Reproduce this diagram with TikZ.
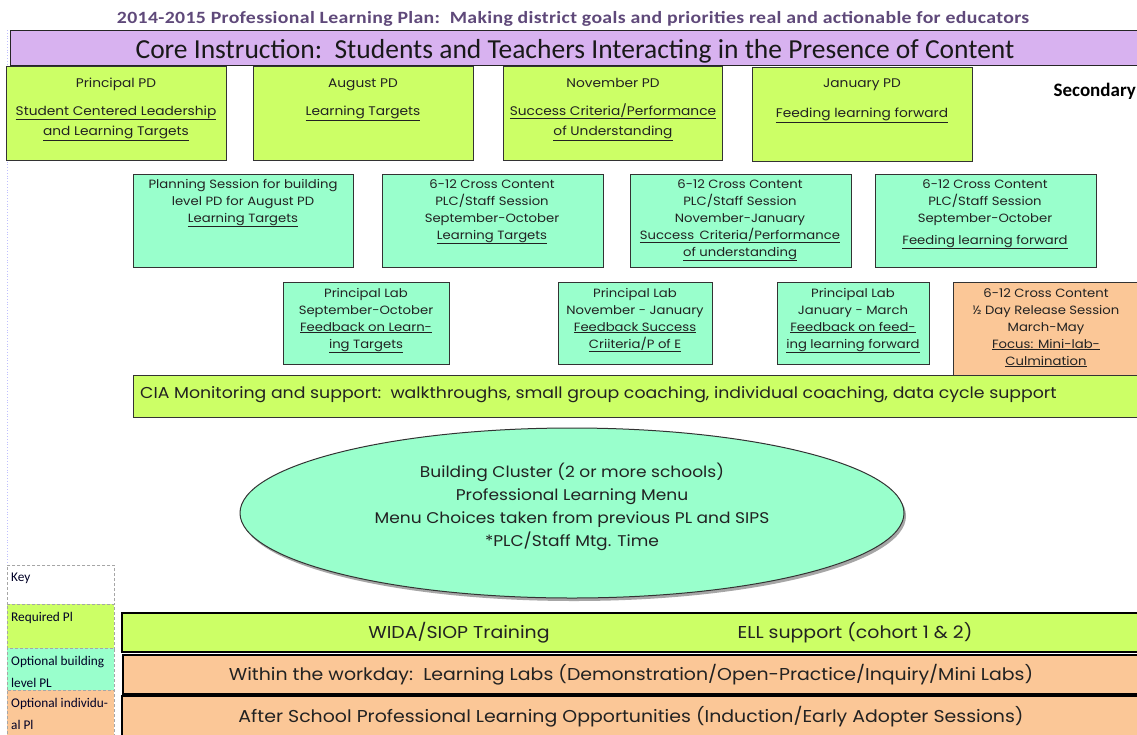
\documentclass[tikz,border=0pt]{standalone}
\usepackage{fontspec}
\setmainfont[FakeStretch=1.1]{Poppins}
\newfontfamily\calfont{Carlito}
\newfontfamily\titlefont[FakeStretch=1.15,LetterSpace=2]{Carlito}
\usetikzlibrary{shapes.geometric}
\definecolor{reqg}{HTML}{CCFF66}
\definecolor{optb}{HTML}{99FFCC}
\definecolor{opti}{HTML}{FBC797}
\definecolor{corep}{HTML}{D8B2F0}
\definecolor{ttl}{HTML}{5F497A}
\definecolor{ink}{HTML}{222222}
\tikzset{
  boxbase/.style={draw=black!80, line width=1pt, inner sep=0pt, anchor=north west},
  gbox/.style={boxbase, fill=reqg},
  abox/.style={boxbase, fill=optb},
  obox/.style={boxbase, fill=opti},
  barbox/.style={draw=black, line width=1.6pt, inner sep=0pt, anchor=north west},
  keybox/.style={draw=black!35, dashed, dash pattern=on 3pt off 2pt, line width=0.9pt, inner sep=0pt, anchor=north west, minimum width=107pt},
  toptxt/.style={inner sep=0pt, anchor=base, align=center, text=ink, font=\fontsize{12.5}{20}\selectfont},
  midtxt/.style={inner sep=0pt, anchor=base, align=center, text=ink, font=\fontsize{12}{17}\selectfont},
  labtxt/.style={inner sep=0pt, anchor=base, align=center, text=ink, font=\fontsize{12}{17}\selectfont},
  bartxt/.style={inner sep=0pt, anchor=base, text=ink, font=\fontsize{17.2}{20}\selectfont},
  keytxt/.style={inner sep=0pt, anchor=base west, align=left, text=black!85!blue, font=\calfont\fontsize{13.3}{22}\selectfont},
}
\begin{document}
\begin{tikzpicture}[x=1pt,y=-1pt]
\useasboundingbox (0,0) rectangle (1137,734);
\clip (0,0) rectangle (1137,734);
\fill[white] (0,0) rectangle (1137,734);
\draw[blue!25, dotted, line width=0.8pt] (7,30) -- (7,565);

% title and core
\node[inner sep=0pt, anchor=base, text=ttl, font=\titlefont\bfseries\fontsize{17.2}{18}\selectfont] (title) at (573,23) {2014-2015 Professional Learning Plan:\ \ Making district goals and priorities real and actionable for educators};
\node[boxbase, fill=corep, draw=black!85, line width=1.2pt, minimum width=1140pt, minimum height=35pt] (core) at (10,30) {};
\node[inner sep=0pt, anchor=base, text=black!90, font=\calfont\fontsize{27.5}{30}\selectfont] (coret) at (575,58) {Core Instruction:\ \ Students and Teachers Interacting in the Presence of Content};

% top row (anchor = baseline of last line)
\node[gbox, minimum width=220pt, minimum height=94pt] (pp) at (6,66) {};
\node[toptxt] (ppt) at (116,135) {Principal PD\\[8pt]\underline{Student Centered Leadership}\\\underline{and Learning Targets}};
\node[gbox, minimum width=220pt, minimum height=94pt] (ap) at (253,66) {};
\node[toptxt] (apt) at (363,115) {August PD\\[8pt]\underline{Learning Targets}};
\node[gbox, minimum width=219pt, minimum height=94pt] (np) at (503,66) {};
\node[toptxt] (npt) at (613,135) {November PD\\[8pt]\underline{Success Criteria/Performance}\\\underline{of Understanding}};
\node[gbox, minimum width=220pt, minimum height=94pt] (jp) at (752,67) {};
\node[toptxt] (jpt) at (862,117) {January PD\\[10pt]\underline{Feeding learning forward}};
\node[inner sep=0pt, anchor=base east, text=black, font=\calfont\bfseries\fontsize{19}{20}\selectfont] (sec) at (1136,96) {Secondary};

% second row
\node[abox, minimum width=220pt, minimum height=93pt] (ps) at (133,174) {};
\node[midtxt] (pst) at (243,222) {Planning Session for building\\level PD for August PD\\\underline{Learning Targets}};
\node[abox, minimum width=221pt, minimum height=93pt] (cc1) at (382,174) {};
\node[midtxt] (cc1t) at (492,239) {6-12 Cross Content\\PLC/Staff Session\\September-October\\\underline{Learning Targets}};
\node[abox, minimum width=221pt, minimum height=93pt] (cc2) at (630,174) {};
\node[midtxt] (cc2t) at (740,256) {6-12 Cross Content\\PLC/Staff Session\\November-January\\\underline{Success\ \,Criteria/Performance}\\\underline{of understanding}};
\node[abox, minimum width=221pt, minimum height=93pt] (cc3) at (875,174) {};
\node[midtxt] (cc3t) at (985,244) {6-12 Cross Content\\PLC/Staff Session\\September-October\\[5pt]\underline{Feeding learning forward}};

% third row
\node[abox, minimum width=166pt, minimum height=82pt] (pl1) at (283,282) {};
\node[labtxt] (pl1t) at (366,348) {Principal Lab\\September-October\\\underline{Feedback on Learn-}\\\underline{ing Targets}};
\node[abox, minimum width=154pt, minimum height=82pt] (pl2) at (558,282) {};
\node[labtxt] (pl2t) at (635,348) {Principal Lab\\November - January\\\underline{Feedback Success}\\\underline{Criiteria/P of E}};
\node[abox, minimum width=152pt, minimum height=82pt] (pl3) at (777,282) {};
\node[labtxt] (pl3t) at (853,348) {Principal Lab\\January - March\\\underline{Feedback on feed-}\\\underline{ing learning forward}};
\node[obox, minimum width=200pt, minimum height=100pt] (hd) at (953,282) {};
\node[labtxt] (hdt) at (1046,365) {6-12 Cross Content\\½ Day Release Session\\March-May\\\underline{Focus: Mini-lab-}\\\underline{Culmination}};

% CIA bar
\node[gbox, minimum width=1010pt, minimum height=42pt] (cia) at (133,375) {};
\node[bartxt, anchor=base west, font=\fontsize{15.75}{20}\selectfont] (ciat) at (140,398) {CIA Monitoring and support:\ \ walkthroughs, small group coaching, individual coaching, data cycle support};

% ellipse
\fill[black!35] (574,516) ellipse [x radius=332pt, y radius=85pt];
\node[ellipse, draw=black!80, line width=1pt, fill=optb, minimum width=664pt, minimum height=170pt, inner sep=0pt] (bc) at (572,513) {};
\node[inner sep=0pt, anchor=base, align=center, text=ink, font=\fontsize{15.5}{23}\selectfont] (bct) at (572,546) {Building Cluster (2 or more schools)\\Professional Learning Menu\\Menu Choices taken from previous PL and SIPS\\*PLC/Staff Mtg. Time};

% key
\node[keybox, fill=white, minimum height=39pt] (kk) at (7,565) {};
\node[keytxt] (kkt) at (11,581) {Key};
\node[keybox, fill=reqg, minimum height=44pt] (kr) at (7,604) {};
\node[keytxt] (krt) at (11,621) {Required Pl};
\node[keybox, fill=optb, minimum height=42pt] (kb) at (7,648) {};
\node[keytxt] (kbt) at (11,687) {Optional building\\level PL};
\node[keybox, fill=opti, minimum height=50pt] (ki) at (7,690) {};
\node[keytxt] (kit) at (11,729) {Optional individu-\\al Pl};

% bottom bars
\node[barbox, fill=reqg, minimum width=1025pt, minimum height=39pt] (wb) at (121,612) {};
\node[bartxt] (wbt1) at (459,638) {WIDA/SIOP Training};
\node[bartxt] (wbt2) at (855,638) {ELL support (cohort 1 \& 2)};
\node[barbox, fill=opti, minimum width=1025pt, minimum height=39pt] (lb) at (122,654) {};
\node[bartxt] (lbt) at (631,680) {Within the workday:\ \ Learning Labs (Demonstration/Open-Practice/Inquiry/Mini Labs)};
\node[barbox, fill=opti, minimum width=1025pt, minimum height=50pt] (ab) at (121,695) {};
\node[bartxt] (abt) at (631,722) {After School Professional Learning Opportunities (Induction/Early Adopter Sessions)};
\end{tikzpicture}
\end{document}
